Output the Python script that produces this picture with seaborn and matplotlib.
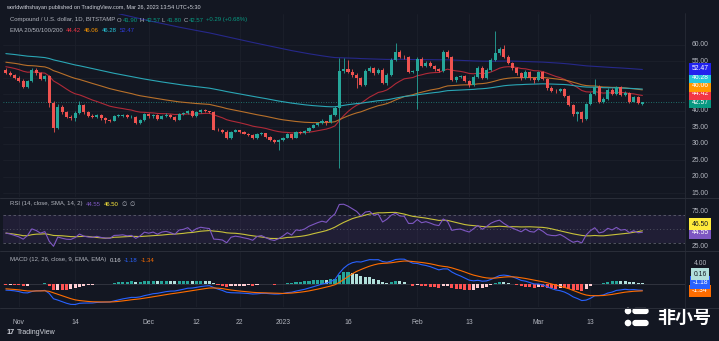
import numpy as np
import pandas as pd
import matplotlib
matplotlib.use("Agg")
import matplotlib.pyplot as plt
import matplotlib.dates as mdates
import matplotlib.transforms as mtransforms
from matplotlib.patches import FancyBboxPatch, Circle
import seaborn as sns

# ---------------------------------------------------------------- data
start_date = "2022-10-29"

# daily candles, Oct 29 2022 .. Mar 25 2023 (one row of each list per month)
opens = [
    52.3, 51.5, 50.9,
    50.0, 49.0, 47.3, 48.9, 52.3, 51.3, 49.6, 50.4, 42.2, 34.7, 41.2, 39.5, 38.2, 37.9, 39.2,
    41.7, 39.5, 38.5, 38.2, 38.8, 37.7, 37.2, 36.9, 38.4, 38.5, 38.7, 38.0, 38.2, 36.2, 37.2,
    38.9, 38.3, 38.8, 37.6, 38.5, 38.8, 38.2, 37.3, 39.0, 39.3, 40.0, 38.3, 39.5, 40.1, 39.8,
    39.6, 34.2, 34.0, 33.6, 31.6, 33.6, 34.0, 33.6, 33.0, 32.5, 31.6, 32.8, 33.1, 32.1, 31.0, 30.5,
    31.0, 31.8, 32.8, 31.8, 33.5, 33.3, 33.8, 34.8, 35.5, 36.2, 36.8, 36.5, 38.6, 40.8, 52.0,
    52.5, 51.8, 50.8, 49.8, 47.9, 52.1, 53.0, 51.3, 52.4, 48.4, 50.9, 55.4, 57.9, 56.4, 56.2, 51.8,
    51.9, 55.6, 53.5, 54.5, 53.6, 52.5, 52.0, 57.9, 56.3, 49.3, 50.1, 50.4, 49.0, 47.9,
    50.3, 53.0, 50.0, 52.3, 55.4, 57.4, 58.7, 56.4, 54.4, 52.8, 51.3, 49.8, 51.8, 49.8,
    49.3, 51.6, 49.7, 46.8, 46.0, 45.8, 46.5, 44.5, 41.7, 38.9, 39.5, 37.5, 41.9,
    45.0, 47.3, 42.7, 43.5, 46.4, 45.0, 47.1, 44.8, 45.3, 42.7, 44.0, 41.90,
]
highs = [
    52.8, 51.9, 51.2,
    50.4, 49.5, 49.3, 53.0, 52.8, 51.6, 50.9, 50.8, 42.8, 42.0, 41.6, 39.9, 38.8, 39.8, 43.0,
    42.0, 39.9, 38.9, 39.1, 39.1, 38.0, 37.5, 38.8, 38.9, 39.0, 39.1, 38.6, 38.4, 37.6, 39.3,
    39.2, 39.1, 39.1, 38.8, 39.3, 39.0, 38.5, 39.3, 39.7, 40.3, 40.2, 39.8, 40.6, 40.6, 40.0,
    39.9, 34.6, 34.4, 34.0, 33.9, 34.3, 34.2, 33.9, 33.2, 32.8, 33.1, 33.5, 33.3, 32.3, 31.3, 31.4,
    32.1, 33.1, 33.0, 33.8, 33.8, 34.1, 35.1, 35.8, 36.6, 37.4, 37.0, 38.9, 41.3, 55.9, 56.0,
    55.5, 52.5, 51.5, 50.2, 52.6, 53.6, 53.3, 52.9, 52.8, 51.3, 56.0, 60.6, 58.3, 56.9, 56.6, 52.3,
    56.2, 56.3, 55.0, 54.9, 53.9, 53.0, 58.4, 58.3, 56.6, 50.6, 50.9, 50.7, 49.3, 50.7,
    53.5, 53.6, 52.8, 55.9, 64.0, 59.3, 60.0, 56.8, 54.8, 53.2, 51.6, 52.2, 52.1, 50.2,
    52.0, 51.9, 50.0, 47.5, 46.5, 46.9, 46.8, 44.8, 42.0, 39.9, 39.8, 42.3, 45.5,
    49.6, 47.7, 44.0, 46.9, 47.0, 47.5, 47.4, 45.8, 45.6, 44.4, 44.3, 42.57,
]
lows = [
    51.0, 50.5, 49.6,
    48.6, 46.9, 47.0, 48.6, 50.9, 49.2, 49.0, 41.0, 33.5, 34.3, 38.9, 37.8, 37.2, 37.0, 38.9,
    39.1, 38.1, 37.8, 37.9, 37.3, 36.2, 36.4, 36.7, 38.1, 38.2, 37.7, 37.8, 35.8, 35.9, 37.0,
    37.9, 37.9, 37.3, 37.4, 38.2, 37.9, 37.0, 37.1, 38.7, 39.1, 38.0, 38.0, 39.2, 39.5, 39.2,
    34.0, 33.7, 33.2, 31.3, 31.4, 33.4, 33.2, 32.8, 32.2, 31.3, 31.5, 32.6, 31.8, 30.7, 30.2, 28.0,
    30.8, 31.6, 31.5, 31.6, 33.0, 33.0, 33.6, 34.6, 35.3, 36.0, 35.5, 36.3, 38.4, 22.7, 51.5,
    51.3, 50.3, 46.9, 47.4, 47.6, 51.7, 50.9, 51.0, 48.0, 47.8, 50.6, 55.0, 56.0, 55.8, 51.4, 51.3,
    40.5, 53.1, 53.2, 53.3, 52.1, 51.6, 51.8, 55.9, 48.9, 48.8, 49.8, 48.7, 47.3, 47.6,
    50.0, 49.6, 49.7, 52.0, 55.0, 57.0, 56.0, 54.0, 52.4, 50.9, 49.4, 49.5, 49.4, 48.5,
    49.0, 49.3, 46.2, 45.7, 45.4, 45.5, 44.1, 41.3, 38.5, 36.8, 36.5, 37.2, 41.6,
    44.7, 42.2, 42.4, 43.2, 44.7, 44.8, 44.4, 44.5, 42.4, 42.5, 41.9, 41.80,
]
closes = [
    51.5, 50.9, 50.0,
    49.0, 47.3, 48.9, 52.3, 51.3, 49.6, 50.4, 42.2, 34.7, 41.2, 39.5, 38.2, 37.9, 39.2, 41.7,
    39.5, 38.5, 38.2, 38.8, 37.7, 37.2, 36.9, 38.4, 38.5, 38.7, 38.0, 38.2, 36.2, 37.2, 38.9,
    38.3, 38.8, 37.6, 38.5, 38.8, 38.2, 37.3, 39.0, 39.3, 40.0, 38.3, 39.5, 40.1, 39.8, 39.6,
    34.2, 34.0, 33.6, 31.6, 33.6, 34.0, 33.6, 33.0, 32.5, 31.6, 32.8, 33.1, 32.1, 31.0, 30.5, 31.0,
    31.8, 32.8, 31.8, 33.5, 33.3, 33.8, 34.8, 35.5, 36.2, 36.8, 36.5, 38.6, 40.8, 52.0, 52.5,
    51.8, 50.8, 49.8, 47.9, 52.1, 53.0, 51.3, 52.4, 48.4, 50.9, 55.4, 57.9, 56.4, 56.2, 51.8, 51.9,
    55.6, 53.5, 54.5, 53.6, 52.5, 52.0, 57.9, 56.3, 49.3, 50.1, 50.4, 49.0, 47.9, 50.3,
    53.0, 50.0, 52.3, 55.4, 57.4, 58.7, 56.4, 54.4, 52.8, 51.3, 49.8, 51.8, 49.8, 49.3,
    51.6, 49.7, 46.8, 46.0, 45.8, 46.5, 44.5, 41.7, 38.9, 39.5, 37.5, 41.9, 45.0,
    47.3, 42.7, 43.5, 46.4, 45.0, 47.1, 44.8, 45.3, 42.7, 44.0, 42.28, 42.57,
]

# EMA levels entering the window (Oct 29) and the values shown on the price scale
ema_spans = [20, 50, 100, 200]
ema_start = [53.5, 54.8, 57.4, None]
ema_last = [44.42, 46.06, 46.28, 52.47]
ema_colors = ["#f23645", "#ff9800", "#26c6da", "#2f3bd8"]
ema_line_colors = ["#b02a38", "#b8702a", "#2aa6b5", "#26288a"]

# oscillator state entering the window
rsi_len, rsi_ma_len = 14, 14
rsi_avg_gain0, rsi_avg_loss0 = 0.70, 0.85
macd_fast0, macd_slow0, macd_signal0 = 52.8, 54.0, -0.9
rsi_last, rsi_ma_last = 44.55, 46.50
macd_hist_last, macd_last, macd_signal_last = 0.16, -1.18, -1.34

x_ticks = ["2022-11-01", "2022-11-14", "2022-12-01", "2022-12-12", "2022-12-22",
           "2023-01-01", "2023-01-16", "2023-02-01", "2023-02-13", "2023-03-01", "2023-03-13"]
x_tick_labels = ["Nov", "14", "Dec", "12", "22", "2023", "16", "Feb", "13", "Mar", "13"]
price_ticks = [15, 20, 25, 30, 35, 40, 55, 60]

# ---------------------------------------------------------------- indicators
o = np.array(opens); h = np.array(highs); l = np.array(lows); c = np.array(closes)
dates = pd.date_range(start_date, periods=len(c), freq="D")
x = mdates.date2num(dates.to_pydatetime())


def ema(values, span, seed):
    a = 2.0 / (span + 1)
    out, e = [], seed
    for v in values:
        e = a * v + (1 - a) * e
        out.append(e)
    return np.array(out)


def seed_for_end(values, span, end):
    a = 2.0 / (span + 1)
    base = ema(values, span, 0.0)[-1]
    return (end - base) / (1 - a) ** len(values)


emas = []
for span, s0, last in zip(ema_spans, ema_start, ema_last):
    if s0 is None:
        s0 = seed_for_end(c, span, last)
    emas.append(ema(c, span, s0))

# Wilder RSI
ag, al, prev = rsi_avg_gain0, rsi_avg_loss0, o[0]
rsi = []
for v in c:
    ch = v - prev
    ag = (ag * (rsi_len - 1) + max(ch, 0)) / rsi_len
    al = (al * (rsi_len - 1) + max(-ch, 0)) / rsi_len
    rsi.append(100 - 100 / (1 + ag / al))
    prev = v
rsi = np.array(rsi)
rsi_ma = pd.Series(rsi).rolling(rsi_ma_len, min_periods=1).mean().to_numpy()

macd = ema(c, 12, macd_fast0) - ema(c, 26, macd_slow0)
signal = ema(macd, 9, macd_signal0)
hist = macd - signal

# ---------------------------------------------------------------- style
BG = "#131722"
GRID = "#1c202b"
TXT = "#b2b5be"
UP, DOWN = "#26a69a", "#ef5350"
FONT = ["Liberation Sans", "DejaVu Sans"]

sns.set_theme(style="dark")
plt.rcParams["font.family"] = FONT
plt.rcParams["axes.facecolor"] = BG
plt.rcParams["figure.facecolor"] = BG

W, H = 719, 341
fig = plt.figure(figsize=(W / 100, H / 100), dpi=100)
PL, PR = 3, 685


def px_axes(x0, y0, x1, y1):
    ax = fig.add_axes([x0 / W, 1 - y1 / H, (x1 - x0) / W, (y1 - y0) / H])
    ax.set_facecolor(BG)
    for s in ax.spines.values():
        s.set_visible(False)
    ax.tick_params(left=False, bottom=False, labelleft=False, labelbottom=False)
    ax.grid(False)
    return ax


jan1 = mdates.date2num(pd.Timestamp("2023-01-01"))
ppd = 4.33
xlim = (jan1 - (283 - PL) / ppd, jan1 + (PR - 283) / ppd)

ax_p = px_axes(PL, 14, PR, 197)
ax_r = px_axes(PL, 198, PR, 250)
ax_m = px_axes(PL, 251, PR, 307)
for ax in (ax_p, ax_r, ax_m):
    ax.set_xlim(*xlim)
    for t in x_ticks:
        ax.axvline(mdates.date2num(pd.Timestamp(t)), color=GRID, lw=0.6, zorder=0)

ax_p.set_ylim(13.8, 69.3)
ax_r.set_ylim(19.3, 93.6)
ax_m.set_ylim(-4.46, 6.31)

SCALE_FS = 4.9

# ---------------------------------------------------------------- price pane
for p in range(15, 65, 5):
    ax_p.axhline(p, color=GRID, lw=0.6, zorder=0)

for e, col in zip(emas, ema_line_colors):
    sns.lineplot(x=x, y=e, ax=ax_p, color=col, linewidth=0.8, legend=False, zorder=2)

cols = np.where(c >= o, UP, DOWN)
ax_p.vlines(x, l, h, colors=cols, linewidth=0.6, zorder=3)
body_lo = np.minimum(o, c)
body_h = np.maximum(np.abs(c - o), 0.12)
ax_p.bar(x, body_h, bottom=body_lo, width=0.72, color=cols, linewidth=0, zorder=4)

ax_p.axhline(c[-1], color=UP, lw=0.6, ls=(0, (1, 2)), alpha=0.8, zorder=1)

blend_p = mtransforms.blended_transform_factory(ax_p.transAxes, ax_p.transData)
LX = (700 - PL) / (PR - PL)
for p in price_ticks:
    ax_p.text(LX, p, f"{p:.2f}", transform=blend_p, ha="center", va="center",
              fontsize=SCALE_FS, color=TXT, clip_on=False)


def value_boxes(ax, items, min_gap_px):
    """Price-scale tags, pushed apart so they never overlap."""
    to_px = ax.transData.transform
    from_px = ax.transData.inverted().transform
    items = sorted(items, key=lambda t: t[0])
    placed, last_px = [], None
    for val, face, fg in items:
        ypx = to_px((0, val))[1]
        if last_px is not None and ypx < last_px + min_gap_px:
            ypx = last_px + min_gap_px
        last_px = ypx
        placed.append((from_px((0, ypx))[1], val, face, fg))
    blend = mtransforms.blended_transform_factory(ax.transAxes, ax.transData)
    for ypos, val, face, fg in placed:
        ax.text(LX, ypos, f"{val:.2f}", transform=blend, ha="center", va="center",
                fontsize=SCALE_FS, color=fg, clip_on=False,
                bbox=dict(boxstyle="square,pad=0.4", fc=face, ec="none"))


value_boxes(ax_p, [(ema_last[3], "#2222ee", "white"), (ema_last[2], "#26c6da", "white"),
                   (ema_last[1], "#ff9800", "white"), (ema_last[0], "#f23645", "white"),
                   (c[-1], "#089981", "white")], 8.3)

# ---------------------------------------------------------------- RSI pane
ax_r.axhspan(30, 70, color="#7e57c2", alpha=0.12, lw=0, zorder=0)
for lvl, ls in ((70, (0, (3, 3))), (50, (0, (1, 3))), (30, (0, (3, 3)))):
    ax_r.axhline(lvl, color="#787b86", lw=0.6, ls=ls, alpha=0.7, zorder=1)
sns.lineplot(x=x, y=rsi_ma, ax=ax_r, color="#c8c23a", linewidth=0.8, legend=False, zorder=2)
sns.lineplot(x=x, y=rsi, ax=ax_r, color="#7e57c2", linewidth=0.8, legend=False, zorder=3)
blend_r = mtransforms.blended_transform_factory(ax_r.transAxes, ax_r.transData)
for v in (75, 25):
    ax_r.text(LX, v, f"{v:.2f}", transform=blend_r, ha="center", va="center",
              fontsize=SCALE_FS, color=TXT, clip_on=False)
value_boxes(ax_r, [(rsi_last, "#7e57c2", "white"), (rsi_ma_last, "#ffeb3b", "#131722")], 8.3)

# ---------------------------------------------------------------- MACD pane
hcols = []
for i, v in enumerate(hist):
    pv = hist[i - 1] if i else v
    if v >= 0:
        hcols.append("#26a69a" if v >= pv else "#b2dfdb")
    else:
        hcols.append("#ff5252" if v <= pv else "#ffcdd2")
ax_m.axhline(0, color="#787b86", lw=0.5, alpha=0.4, zorder=0)
ax_m.bar(x, hist, width=0.72, color=hcols, linewidth=0, zorder=2)
sns.lineplot(x=x, y=macd, ax=ax_m, color="#2962ff", linewidth=0.8, legend=False, zorder=3)
sns.lineplot(x=x, y=signal, ax=ax_m, color="#ff6d00", linewidth=0.8, legend=False, zorder=3)
blend_m = mtransforms.blended_transform_factory(ax_m.transAxes, ax_m.transData)
ax_m.text(LX, 4, "4.00", transform=blend_m, ha="center", va="center",
          fontsize=SCALE_FS, color=TXT, clip_on=False)
value_boxes(ax_m, [(macd_signal_last, "#ff6d00", "white"), (macd_last, "#2962ff", "white"),
                   (macd_hist_last, "#b2dfdb", "#131722")], 8.3)

# time axis
ax_m.set_xticks([mdates.date2num(pd.Timestamp(t)) for t in x_ticks])
ax_m.set_xticklabels(x_tick_labels)
ax_m.tick_params(bottom=False, labelbottom=True, labelsize=SCALE_FS, labelcolor=TXT, pad=2.5)

# pane separators
for yy in (197.5, 250.5, 307.5):
    fig.add_artist(plt.Line2D([0, 1], [1 - yy / H] * 2, color="#2a2e39", lw=0.7))
fig.add_artist(plt.Line2D([PR / W] * 2, [1 - 307.5 / H, 1 - 13 / H], color="#2a2e39", lw=0.5))

# ---------------------------------------------------------------- text
renderer = fig.canvas.get_renderer()


def text_run(x_px, y_px, parts, size=4.3, gap=3, weight="normal"):
    xx = x_px
    for s, col in parts:
        t = fig.text(xx / W, 1 - y_px / H, s, color=col, fontsize=size, ha="left", va="center",
                     fontweight=weight)
        xx += t.get_window_extent(renderer).width + gap


text_run(6, 7, [("worldwithshayan published on TradingView.com, Mar 26, 2023 13:54 UTC+5:30", "#d1d4dc")],
         size=4.0)
G = "#089981"
text_run(10, 20, [("Compound / U.S. dollar, 1D, BITSTAMP", TXT), ("O", TXT), ("41.90", G),
                  ("H", TXT), ("42.57", G), ("L", TXT), ("41.80", G), ("C", TXT), ("42.57", G),
                  ("+0.29 (+0.68%)", G)], gap=1.5)
text_run(10, 30, [("EMA 20/50/100/200", TXT)] +
         [(f"{v:.2f}", col) for v, col in zip(ema_last, ema_colors)])
text_run(10, 204, [("RSI (14, close, SMA, 14, 2)", TXT), (f"{rsi_last:.2f}", "#7e57c2"),
                   (f"{rsi_ma_last:.2f}", "#ffeb3b"), ("\u2205", TXT), ("\u2205", TXT)])
text_run(10, 260, [("MACD (12, 26, close, 9, EMA, EMA)", TXT), (f"{macd_hist_last:.2f}", "#d1d4dc"),
                   (f"{macd_last:.2f}", "#2962ff"), (f"{macd_signal_last:.2f}", "#ff6d00")])
text_run(6, 333, [("17", "#d1d4dc")], size=5.2, weight="bold", gap=1.5)
text_run(17, 333, [("TradingView", "#d1d4dc")], size=5.0)

# 非小号 mark
ax_w = fig.add_axes([0, 0, 1, 1], facecolor="none")
ax_w.set_xlim(0, W); ax_w.set_ylim(H, 0); ax_w.axis("off")
for yy in (311, 323):
    ax_w.add_patch(Circle((628, yy), 2.6, color="white"))
    ax_w.add_patch(FancyBboxPatch((633, yy - 2.4), 15, 4.8, boxstyle="round,pad=0,rounding_size=2.4",
                                  color="white"))
ax_w.text(684, 317, "非小号", family=["Noto Sans CJK SC", "DejaVu Sans"], fontsize=13,
          fontweight="bold", color="white", ha="center", va="center")

fig.savefig("out.png", dpi=100, facecolor=BG)
